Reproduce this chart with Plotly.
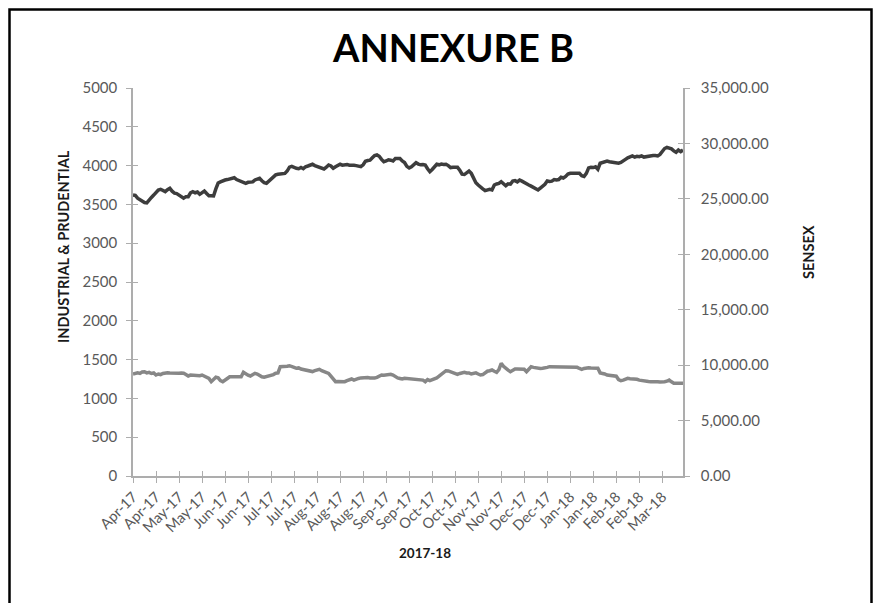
import plotly.graph_objects as go

# ---------------- data ----------------
tick_labels = ["Apr-17", "Apr-17", "May-17", "May-17", "Jun-17", "Jun-17", "Jul-17", "Jul-17",
               "Aug-17", "Aug-17", "Aug-17", "Sep-17", "Sep-17", "Oct-17", "Oct-17", "Nov-17",
               "Nov-17", "Dec-17", "Dec-17", "Jan-18", "Jan-18", "Feb-18", "Feb-18", "Mar-18"]

industrial_prudential = [
    3620, 3615, 3580, 3557, 3540, 3525, 3520, 3560, 3590, 3620,
    3650, 3686, 3695, 3680, 3664, 3690, 3707, 3670, 3645, 3640,
    3620, 3590, 3580, 3600, 3600, 3650, 3664, 3650, 3660, 3630,
    3650, 3673, 3640, 3612, 3610, 3608, 3700, 3775, 3790, 3805,
    3814, 3820, 3825, 3830, 3844, 3820, 3805, 3790, 3780, 3772,
    3785, 3793, 3790, 3815, 3830, 3836, 3805, 3780, 3772, 3800,
    3830, 3860, 3880, 3888, 3890, 3895, 3900, 3930, 3980, 3990,
    3975, 3965, 3960, 3975, 3960, 3985, 3995, 4010, 4017, 4000,
    3990, 3975, 3960, 3956, 3980, 4008, 3995, 3965, 3985, 4005,
    4017, 4005, 4010, 4015, 4005, 4010, 4005, 4000, 3995, 3986,
    4010, 4055, 4065, 4070, 4100, 4130, 4137, 4120, 4080, 4050,
    4060, 4075, 4070, 4060, 4090, 4094, 4090, 4060, 4040, 3990,
    3970, 3985, 4015, 4037, 4020, 4010, 4015, 4008, 3960, 3921,
    3950, 3990, 4017, 4010, 4020, 4015, 4017, 4000, 3975, 3980,
    3978, 3978, 3940, 3890, 3885, 3910, 3930, 3900, 3830, 3780,
    3750, 3720, 3700, 3677, 3690, 3695, 3686, 3750, 3763, 3770,
    3793, 3760, 3741, 3765, 3760, 3800, 3806, 3790, 3814, 3800,
    3780, 3760, 3750, 3735, 3715, 3700, 3686, 3710, 3735, 3760,
    3802, 3795, 3800, 3820, 3814, 3820, 3850, 3840, 3860, 3890,
    3900, 3900, 3895, 3900, 3900, 3870, 3860, 3900, 3970, 3978,
    3975, 3985, 3952, 4030, 4040, 4050, 4059, 4050, 4045, 4050,
    4045, 4030, 4040, 4065, 4080, 4100, 4115, 4124, 4110, 4120,
    4115, 4125, 4110, 4115, 4130, 4125, 4130, 4130, 4125, 4145,
    4180, 4220, 4235, 4225, 4215, 4190, 4171, 4200, 4180, 4201,
]

sensex = [
    9200, 9265, 9300, 9250, 9380, 9409, 9300, 9350, 9250, 9300,
    9111, 9200, 9150, 9250, 9300, 9319, 9300, 9280, 9300, 9270,
    9265, 9300, 9265, 9150, 9021, 9100, 9080, 9111, 9100, 9050,
    9111, 9000, 8900, 8800, 8507, 8700, 8904, 8850, 8600, 8507,
    8700, 8800, 8950, 8958, 8900, 8950, 8904, 8950, 9355, 9200,
    9100, 9021, 9150, 9265, 9200, 9050, 8950, 8904, 8950, 9000,
    9050, 9150, 9265, 9300, 9860, 9850, 9870, 9900, 9950, 9900,
    9800, 9716, 9750, 9650, 9600, 9500, 9450, 9409, 9420, 9500,
    9600, 9625, 9500, 9400, 9319, 9250, 9000, 8700, 8507, 8520,
    8500, 8520, 8507, 8600, 8700, 8750, 8650, 8750, 8800, 8850,
    8870, 8904, 8880, 8850, 8813, 8830, 8900, 9000, 9111, 9080,
    9100, 9150, 9175, 9100, 8950, 8850, 8800, 8750, 8813, 8800,
    8800, 8723, 8760, 8750, 8723, 8700, 8650, 8507, 8700, 8600,
    8680, 8723, 8850, 9000, 9200, 9400, 9499, 9480, 9400, 9300,
    9200, 9175, 9250, 9300, 9355, 9300, 9300, 9200, 9265, 9300,
    9200, 9111, 9150, 9300, 9450, 9500, 9562, 9450, 9355, 9600,
    10166, 9900, 9700, 9550, 9409, 9550, 9652, 9650, 9640, 9625,
    9625, 9409, 9650, 9860, 9800, 9750, 9720, 9700, 9716, 9800,
    9800, 9860, 9860, 9850, 9870, 9860, 9840, 9860, 9870, 9850,
    9860, 9850, 9860, 9800, 9700, 9625, 9700, 9760, 9770, 9750,
    9740, 9720, 9716, 9300, 9265, 9200, 9111, 9100, 9080, 9048,
    9000, 8700, 8597, 8650, 8750, 8813, 8780, 8750, 8800, 8723,
    8650, 8600, 8570, 8540, 8530, 8507, 8520, 8480, 8500, 8470,
    8453, 8500, 8550, 8660, 8500, 8363, 8370, 8360, 8363, 8363,
]

left_ticks = [0, 500, 1000, 1500, 2000, 2500, 3000, 3500, 4000, 4500, 5000]
right_ticks = [0, 5000, 10000, 15000, 20000, 25000, 30000, 35000]

# ---------------- figure ----------------
OFF = 8                    # page offset of the figure (body margin)
W, H = 865, 595
PL, PR, PT, PB = 133, 683, 88, 476          # plot area in page pixels
L, R, T, B = PL - OFF, PR - OFF, PT - OFF, PB - OFF


def px(x):  # page x -> paper
    return (x - PL) / (PR - PL)


def py(y):  # page y -> paper
    return (PB - y) / (PB - PT)


n = len(industrial_prudential)
xs = list(range(n))
tick_pos = [i * 10 for i in range(len(tick_labels))]

FONT = "Lato"
GREY_TXT = "#595959"
AXIS_C = "#ADADAD"

fig = go.Figure()
fig.add_trace(go.Scatter(x=xs, y=industrial_prudential, mode="lines",
                         line=dict(color="#3d3d3d", width=3.5),
                         name="INDUSTRIAL & PRUDENTIAL", xaxis="x", yaxis="y"))
fig.add_trace(go.Scatter(x=xs, y=sensex, mode="lines",
                         line=dict(color="#878787", width=3.5),
                         name="SENSEX", xaxis="x", yaxis="y2"))
# invisible helper traces so the inner-tick axes are drawn
fig.add_trace(go.Scatter(x=[None], y=[None], xaxis="x2", yaxis="y3",
                         showlegend=False, hoverinfo="skip"))
fig.add_trace(go.Scatter(x=[None], y=[None], xaxis="x2", yaxis="y4",
                         showlegend=False, hoverinfo="skip"))

common_axis = dict(showgrid=False, zeroline=False, linecolor=AXIS_C, linewidth=1.5,
                   tickcolor=AXIS_C, tickwidth=1.2, ticklen=5)
inner_axis = {k: v for k, v in common_axis.items() if k not in ("linecolor", "linewidth")}

fig.update_layout(
    width=W, height=H,
    margin=dict(l=L, r=W - R, t=T, b=H - B, pad=0),
    paper_bgcolor="white", plot_bgcolor="white",
    showlegend=False,
    font=dict(family=FONT, color=GREY_TXT),
    xaxis=dict(range=[0, n - 1], tickmode="array", tickvals=tick_pos, ticktext=tick_labels,
               ticks="outside", showline=True, tickangle=-45,
               tickfont=dict(family=FONT, size=14.5, color=GREY_TXT), **common_axis),
    xaxis2=dict(range=[0, n - 1], overlaying="x", side="bottom", tickmode="array",
                tickvals=tick_pos, showticklabels=False, ticks="inside", showline=False,
                **inner_axis),
    yaxis=dict(range=[0, 5000], tickmode="array", tickvals=left_ticks,
               ticks="outside", showline=True, ticklabelstandoff=6,
               tickfont=dict(family=FONT, size=15, color=GREY_TXT), **common_axis),
    yaxis2=dict(range=[0, 35000], tickmode="array", tickvals=right_ticks,
                ticktext=[f"{v:,.2f}" for v in right_ticks],
                overlaying="y", side="right", ticks="outside", showline=True,
                ticklabelstandoff=8,
                tickfont=dict(family=FONT, size=15, color=GREY_TXT), **common_axis),
    yaxis3=dict(range=[0, 5000], overlaying="y", side="left", tickmode="array",
                tickvals=left_ticks, showticklabels=False, ticks="inside", showline=False,
                **inner_axis),
    yaxis4=dict(range=[0, 35000], overlaying="y", side="right", tickmode="array",
                tickvals=right_ticks, showticklabels=False, ticks="inside", showline=False,
                **inner_axis),
)

# outer frame (right edge kept inside the figure)
fig.add_shape(type="rect", xref="paper", yref="paper",
              x0=px(9.5), x1=px(871.5), y0=py(640), y1=py(9.5),
              line=dict(color="black", width=2.5), fillcolor="rgba(0,0,0,0)", layer="below")

# title and axis titles
fig.add_annotation(text="<b>ANNEXURE B</b>", xref="paper", yref="paper",
                   x=px(453), y=py(47), showarrow=False, xanchor="center", yanchor="middle",
                   font=dict(family=FONT, size=38, color="black", weight=900))
fig.add_annotation(text="<b>INDUSTRIAL & PRUDENTIAL</b>", xref="paper", yref="paper",
                   x=px(63), y=py(247), showarrow=False, textangle=-90,
                   xanchor="center", yanchor="middle",
                   font=dict(family=FONT, size=14.5, color="#1a1a1a"))
fig.add_annotation(text="<b>SENSEX</b>", xref="paper", yref="paper",
                   x=px(808), y=py(252), showarrow=False, textangle=-90,
                   xanchor="center", yanchor="middle",
                   font=dict(family=FONT, size=14.5, color="#1a1a1a"))
fig.add_annotation(text="<b>2017-18</b>", xref="paper", yref="paper",
                   x=px(425), y=py(553), showarrow=False, xanchor="center", yanchor="middle",
                   font=dict(family=FONT, size=13.5, color="#1a1a1a"))

fig.write_html("out.html")
